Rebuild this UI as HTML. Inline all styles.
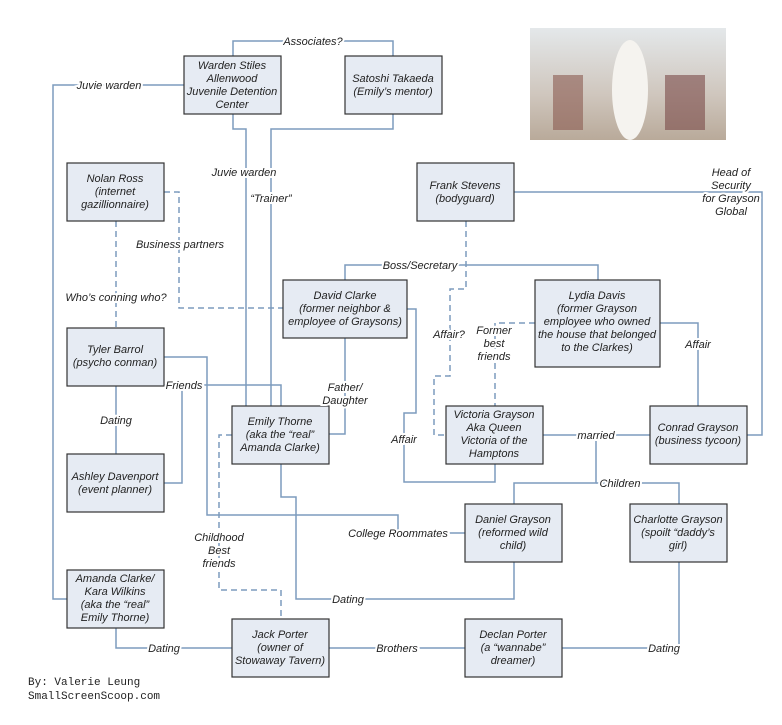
<!DOCTYPE html>
<html><head><meta charset="utf-8"><style>
body{margin:0;background:#fff}
svg text{font-family:"Liberation Sans",sans-serif;font-style:italic;font-size:11px;fill:#222}
</style></head><body>
<svg width="782" height="720" xmlns="http://www.w3.org/2000/svg">
<defs><linearGradient id="ph" x1="0" y1="0" x2="0" y2="1"><stop offset="0" stop-color="#e4e8ea"/><stop offset="0.6" stop-color="#cfc6bd"/><stop offset="1" stop-color="#b9aa9a"/></linearGradient></defs>
<rect x="530" y="28" width="196" height="112" fill="url(#ph)"/>
<rect x="553" y="75" width="30" height="55" fill="#8a5a50" opacity=".6"/>
<rect x="665" y="75" width="40" height="55" fill="#7a4a48" opacity=".6"/>
<ellipse cx="630" cy="90" rx="18" ry="50" fill="#f5f3ef"/>
<g fill="none" stroke="#7d9bbd" stroke-width="1.5">
<polyline points="233,56 233,41 393,41 393,56"/>
<polyline points="184,85 53,85 53,599 67,599"/>
<polyline points="233,114 233,129 246,129 246,406"/>
<polyline points="393,114 393,129 271,129 271,406"/>
<polyline points="345,280 345,265 598,265 598,280"/>
<polyline points="407,309 416,309 416,413 404,413 404,482 495,482 495,464"/>
<polyline points="345,338 345,434 329,434"/>
<polyline points="660,323 698,323 698,406"/>
<polyline points="514,192 762,192 762,435 747,435"/>
<polyline points="543,435 650,435"/>
<polyline points="596,435 596,483 514,483 514,504"/>
<polyline points="596,483 679,483 679,504"/>
<polyline points="164,357 207,357 207,515 398,515 398,533 465,533"/>
<polyline points="164,385 281,385 281,406"/>
<polyline points="164,483 182,483 182,385"/>
<polyline points="116,386 116,454"/>
<polyline points="281,464 281,497 296,497 296,599 514,599 514,562"/>
<polyline points="116,628 116,648 232,648"/>
<polyline points="329,648 465,648"/>
<polyline points="679,562 679,648 562,648"/>
</g>
<g fill="none" stroke="#7d9bbd" stroke-width="1.5" stroke-dasharray="6,4">
<polyline points="164,192 179,192 179,308 283,308"/>
<polyline points="116,221 116,328"/>
<polyline points="466,221 466,289 450,289 450,376 434,376 434,435 446,435"/>
<polyline points="535,323 495,323 495,406"/>
<polyline points="232,435 219,435 219,590 281,590 281,619"/>
</g>
<g fill="#e6ebf3" stroke="#333" stroke-width="1.2">
<rect x="184" y="56" width="97" height="58"/>
<rect x="345" y="56" width="97" height="58"/>
<rect x="67" y="163" width="97" height="58"/>
<rect x="417" y="163" width="97" height="58"/>
<rect x="283" y="280" width="124" height="58"/>
<rect x="535" y="280" width="125" height="87"/>
<rect x="67" y="328" width="97" height="58"/>
<rect x="232" y="406" width="97" height="58"/>
<rect x="446" y="406" width="97" height="58"/>
<rect x="650" y="406" width="97" height="58"/>
<rect x="67" y="454" width="97" height="58"/>
<rect x="465" y="504" width="97" height="58"/>
<rect x="630" y="504" width="97" height="58"/>
<rect x="67" y="570" width="97" height="58"/>
<rect x="232" y="619" width="97" height="58"/>
<rect x="465" y="619" width="97" height="58"/>
</g>
<g text-anchor="middle">
<text x="232" y="69">Warden Stiles</text><text x="232" y="82">Allenwood</text><text x="232" y="95">Juvenile Detention</text><text x="232" y="108">Center</text>
<text x="393" y="82">Satoshi Takaeda</text><text x="393" y="95">(Emily’s mentor)</text>
<text x="115" y="182">Nolan Ross</text><text x="115" y="195">(internet</text><text x="115" y="208">gazillionnaire)</text>
<text x="465" y="189">Frank Stevens</text><text x="465" y="202">(bodyguard)</text>
<text x="345" y="299">David Clarke</text><text x="345" y="312">(former neighbor &amp;</text><text x="345" y="325">employee of Graysons)</text>
<text x="597" y="299">Lydia Davis</text><text x="597" y="312">(former Grayson</text><text x="597" y="325">employee who owned</text><text x="597" y="338">the house that belonged</text><text x="597" y="351">to the Clarkes)</text>
<text x="115" y="353">Tyler Barrol</text><text x="115" y="366">(psycho conman)</text>
<text x="280" y="425">Emily Thorne</text><text x="280" y="438">(aka the “real”</text><text x="280" y="451">Amanda Clarke)</text>
<text x="494" y="418">Victoria Grayson</text><text x="494" y="431">Aka Queen</text><text x="494" y="444">Victoria of the</text><text x="494" y="457">Hamptons</text>
<text x="698" y="431">Conrad Grayson</text><text x="698" y="444">(business tycoon)</text>
<text x="115" y="480">Ashley Davenport</text><text x="115" y="493">(event planner)</text>
<text x="513" y="523">Daniel Grayson</text><text x="513" y="536">(reformed wild</text><text x="513" y="549">child)</text>
<text x="678" y="523">Charlotte Grayson</text><text x="678" y="536">(spoilt “daddy’s</text><text x="678" y="549">girl)</text>
<text x="115" y="582">Amanda Clarke/</text><text x="115" y="595">Kara Wilkins</text><text x="115" y="608">(aka the “real”</text><text x="115" y="621">Emily Thorne)</text>
<text x="280" y="638">Jack Porter</text><text x="280" y="651">(owner of</text><text x="280" y="664">Stowaway Tavern)</text>
<text x="513" y="638">Declan Porter</text><text x="513" y="651">(a “wannabe”</text><text x="513" y="664">dreamer)</text>
</g>
<g text-anchor="middle" stroke="#fff" stroke-width="4" paint-order="stroke">
<text x="313" y="45">Associates?</text>
<text x="109" y="89">Juvie warden</text>
<text x="244" y="176">Juvie warden</text>
<text x="271" y="202">“Trainer”</text>
<text x="180" y="248">Business partners</text>
<text x="116" y="301">Who’s conning who?</text>
<text x="420" y="269">Boss/Secretary</text>
<text x="449" y="338">Affair?</text>
<text x="494" y="334">Former</text><text x="494" y="347">best</text><text x="494" y="360">friends</text>
<text x="698" y="348">Affair</text>
<text x="731" y="176">Head of</text><text x="731" y="189">Security</text><text x="731" y="202">for Grayson</text><text x="731" y="215">Global</text>
<text x="345" y="391">Father/</text><text x="345" y="404">Daughter</text>
<text x="404" y="443">Affair</text>
<text x="596" y="439">married</text>
<text x="620" y="487">Children</text>
<text x="184" y="389">Friends</text>
<text x="116" y="424">Dating</text>
<text x="398" y="537">College Roommates</text>
<text x="219" y="541">Childhood</text><text x="219" y="554">Best</text><text x="219" y="567">friends</text>
<text x="348" y="603">Dating</text>
<text x="164" y="652">Dating</text>
<text x="397" y="652">Brothers</text>
<text x="664" y="652">Dating</text>
</g>
<text x="28" y="685" style="font-family:'Liberation Mono',monospace;font-style:normal;font-size:11px">By: Valerie Leung</text>
<text x="28" y="699" style="font-family:'Liberation Mono',monospace;font-style:normal;font-size:11px">SmallScreenScoop.com</text>
</svg>
</body></html>
